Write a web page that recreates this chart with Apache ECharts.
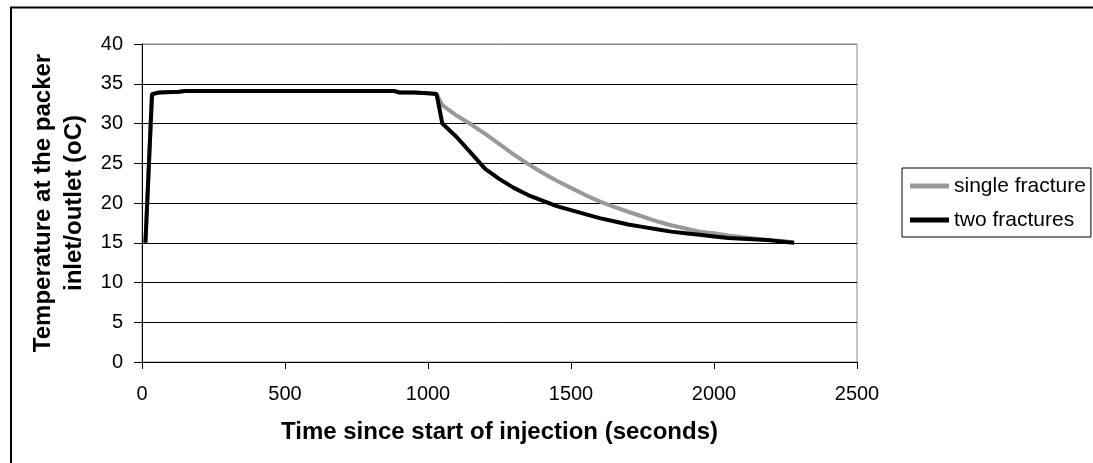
<!DOCTYPE html>
<html>
<head>
<meta charset="utf-8">
<script src="https://cdn.jsdelivr.net/npm/echarts@6/dist/echarts.min.js"></script>
<style>
  html, body { margin: 0; padding: 0; background: #fff; }
  #main { width: 1093px; height: 463px; }
</style>
</head>
<body>
<div id="main"></div>
<script>
// time (s) and temperature (oC)
var singleTime = [12, 35, 60, 130, 150, 300, 500, 700, 880, 900, 950, 1000, 1030, 1050, 1100, 1150, 1200, 1250, 1300, 1350, 1400, 1450, 1500, 1550, 1600, 1650, 1700, 1750, 1800, 1850, 1900, 1950, 2000, 2050, 2100, 2150, 2200, 2250, 2280];
var singleTemp = [15, 33.7, 33.9, 34.0, 34.1, 34.1, 34.1, 34.1, 34.1, 33.9, 33.9, 33.8, 33.7, 32.3, 31.0, 29.9, 28.7, 27.4, 26.1, 24.9, 23.8, 22.8, 21.9, 21.0, 20.2, 19.5, 18.9, 18.3, 17.7, 17.2, 16.8, 16.4, 16.2, 15.9, 15.7, 15.5, 15.3, 15.2, 15.0];

var twoTime = [12, 35, 60, 130, 150, 300, 500, 700, 880, 900, 950, 1000, 1030, 1050, 1100, 1150, 1200, 1250, 1300, 1350, 1400, 1450, 1500, 1550, 1600, 1650, 1700, 1750, 1800, 1850, 1900, 1950, 2000, 2050, 2100, 2150, 2200, 2250, 2280];
var twoTemp = [15, 33.7, 33.9, 34.0, 34.1, 34.1, 34.1, 34.1, 34.1, 33.9, 33.9, 33.8, 33.7, 30.0, 28.3, 26.3, 24.3, 23.0, 21.9, 21.0, 20.3, 19.6, 19.1, 18.6, 18.1, 17.7, 17.3, 17.0, 16.7, 16.4, 16.2, 16.0, 15.8, 15.6, 15.5, 15.4, 15.3, 15.1, 15.0];

var seriesNames = ['single fracture', 'two fractures'];

var pairs = function (xs, ys) {
    return xs.map(function (x, i) { return [x, ys[i]]; });
};

var font = 'Liberation Sans, Arial, sans-serif';
var myChart = echarts.init(document.getElementById('main'));
myChart.setOption({
    backgroundColor: '#fff',
    animation: false,
    graphic: [{
        type: 'rect',
        shape: { x: 11, y: 7.5, width: 1100, height: 470 },
        style: { fill: 'none', stroke: '#000', lineWidth: 2 },
        z: -1
    }],
    grid: {
        left: 142, right: 236, top: 44, bottom: 101,
        show: true, borderColor: '#888', borderWidth: 1
    },
    legend: {
        orient: 'vertical',
        left: 902, top: 168,
        padding: [7, 5, 6, 8],
        itemGap: 12,
        itemWidth: 39, itemHeight: 5,
        icon: 'rect',
        borderColor: '#000', borderWidth: 1,
        textStyle: { fontFamily: font, fontSize: 21, lineHeight: 22, color: '#000' },
        data: seriesNames
    },
    xAxis: {
        type: 'value',
        min: 0, max: 2500, interval: 500,
        name: 'Time since start of injection (seconds)',
        nameLocation: 'middle',
        nameGap: 58,
        nameTextStyle: { fontFamily: font, fontSize: 24, fontWeight: 'bold', color: '#000' },
        axisLine: { lineStyle: { color: '#000', width: 1 } },
        axisTick: { show: true, length: 7, lineStyle: { color: '#000' } },
        axisLabel: {
            fontFamily: font, fontSize: 20, color: '#000', margin: 22,
            formatter: function (v) { return String(v); }
        },
        splitLine: { show: false }
    },
    yAxis: {
        type: 'value',
        min: 0, max: 40, interval: 5,
        name: 'Temperature at the packer\ninlet/outlet (oC)',
        nameLocation: 'middle',
        nameGap: 47,
        nameRotate: 90,
        nameTextStyle: { fontFamily: font, fontSize: 24, fontWeight: 'bold', color: '#000', lineHeight: 31 },
        axisLine: { show: true, lineStyle: { color: '#000', width: 1 } },
        axisTick: { show: true, length: 8, lineStyle: { color: '#000' } },
        axisLabel: { fontFamily: font, fontSize: 20, color: '#000', margin: 19 },
        splitLine: {
            show: true,
            lineStyle: { color: ['#000', '#000', '#000', '#000', '#000', '#000', '#000', '#000', '#888'], width: 1 }
        }
    },
    series: [{
        name: seriesNames[0],
        type: 'line',
        data: pairs(singleTime, singleTemp),
        symbol: 'none',
        color: '#999',
        lineStyle: { color: '#999', width: 4 },
        z: 2
    }, {
        name: seriesNames[1],
        type: 'line',
        data: pairs(twoTime, twoTemp),
        symbol: 'none',
        color: '#000',
        lineStyle: { color: '#000', width: 4 },
        z: 3
    }]
});
</script>
</body>
</html>
